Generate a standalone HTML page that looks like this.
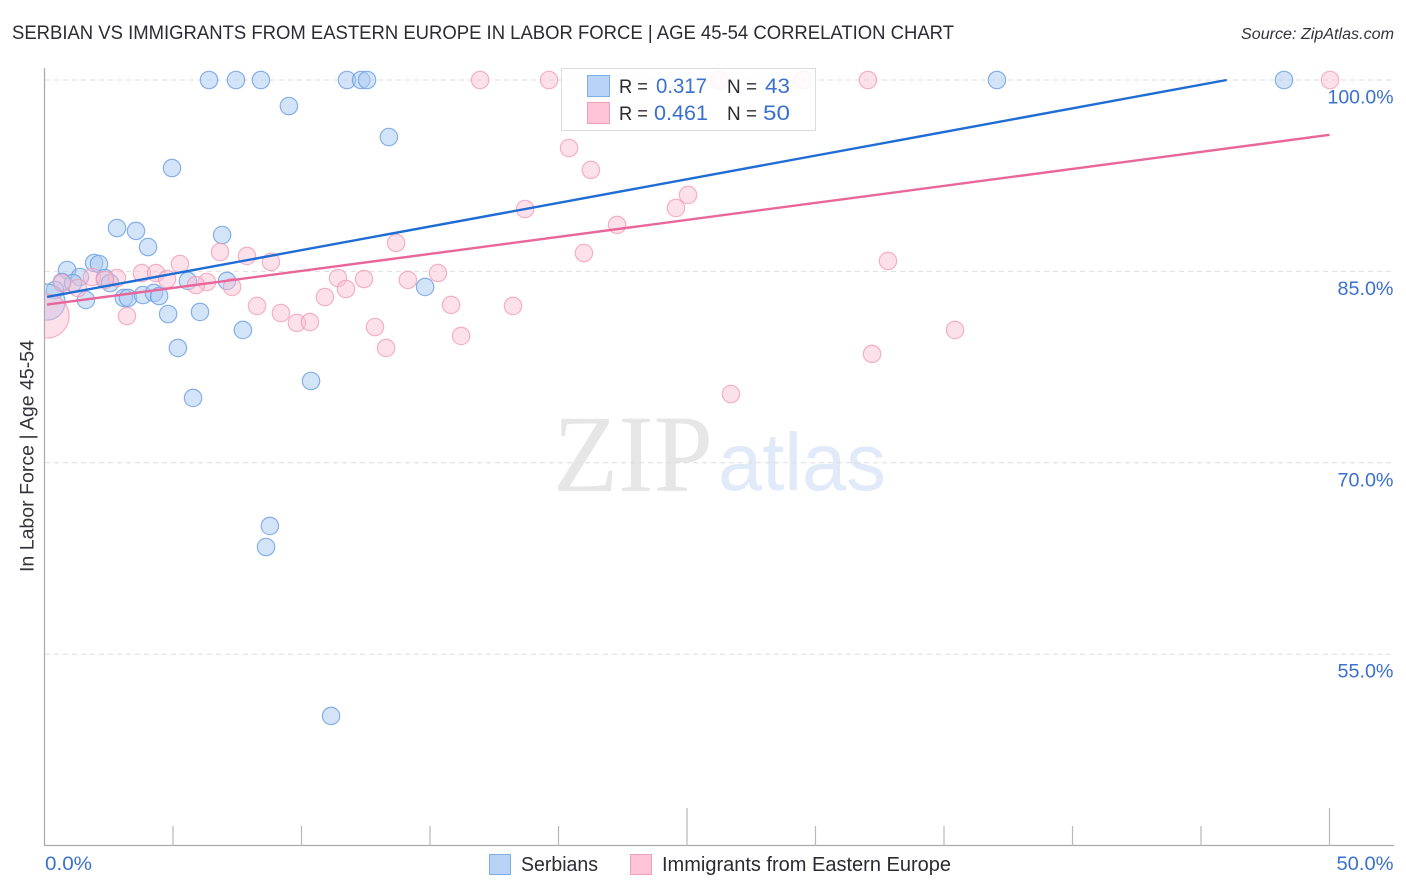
<!DOCTYPE html>
<html lang="en">
<head>
<meta charset="utf-8">
<title>Serbian vs Immigrants from Eastern Europe in Labor Force | Age 45-54 Correlation Chart</title>
<style>
html,body{margin:0;padding:0;background:#fff;}
svg{display:block;}
text{font-family:"Liberation Sans",sans-serif;}
</style>
</head>
<body>
<svg id="chart" xmlns="http://www.w3.org/2000/svg" width="1406" height="892" viewBox="0 0 1406 892">
  <defs>
    <clipPath id="plot-clip"><rect x="45" y="60" width="1349" height="786"></rect></clipPath>
  </defs>
  <rect x="0" y="0" width="1406" height="892" fill="#fff"></rect>
  <text x="12" y="39" font-size="19" fill="#2b2b33" textLength="942" lengthAdjust="spacingAndGlyphs">SERBIAN VS IMMIGRANTS FROM EASTERN EUROPE IN LABOR FORCE | AGE 45-54 CORRELATION CHART</text>
  <text x="1241" y="39" font-size="15.5" font-style="italic" fill="#33333b" textLength="153" lengthAdjust="spacingAndGlyphs">Source: ZipAtlas.com</text>
  <g>
    <text x="553" y="491" font-size="110" fill="#e6e6e6" textLength="160" lengthAdjust="spacingAndGlyphs" style="font-family:'Liberation Serif',serif">ZIP</text>
    <text x="718" y="490" font-size="82" fill="#e0eaf8" textLength="168" lengthAdjust="spacingAndGlyphs">atlas</text>
  </g>
  <g id="grid"></g>
  <g id="axes"></g>
  <g id="points" clip-path="url(#plot-clip)"></g>
  <g id="trends"></g>
  <text transform="translate(33.5,572) rotate(-90)" font-size="19" fill="#33333b" textLength="232" lengthAdjust="spacingAndGlyphs">In Labor Force | Age 45-54</text>

  <g>
    <rect x="561.5" y="68.5" width="254" height="62" fill="#fff" fill-opacity="0.85" stroke="#dcdcdc" stroke-width="1"></rect>
    <rect x="587.5" y="75.5" width="22" height="21" fill="#b8d3f5" stroke="#7eaee6"></rect>
    <rect x="587.5" y="102.5" width="22" height="21" fill="#fcc4d6" stroke="#f0a0ba"></rect>
    <text x="619" y="93" font-size="19.5" fill="#2b2b33" textLength="29" lengthAdjust="spacingAndGlyphs">R =</text>
    <text x="656" y="93" font-size="21" fill="#3a70cf" textLength="51" lengthAdjust="spacingAndGlyphs">0.317</text>
    <text x="727" y="93" font-size="19.5" fill="#2b2b33" textLength="30" lengthAdjust="spacingAndGlyphs">N =</text>
    <text x="765" y="93" font-size="21" fill="#3a70cf" textLength="25" lengthAdjust="spacingAndGlyphs">43</text>
    <text x="619" y="120" font-size="19.5" fill="#2b2b33" textLength="29" lengthAdjust="spacingAndGlyphs">R =</text>
    <text x="654" y="120" font-size="21" fill="#3a70cf" textLength="54" lengthAdjust="spacingAndGlyphs">0.461</text>
    <text x="727" y="120" font-size="19.5" fill="#2b2b33" textLength="30" lengthAdjust="spacingAndGlyphs">N =</text>
    <text x="763" y="120" font-size="21" fill="#3a70cf" textLength="27" lengthAdjust="spacingAndGlyphs">50</text>
  </g>

  <g>
    <rect x="489.5" y="854.5" width="21" height="20" fill="#b8d3f5" stroke="#7eaee6"></rect>
    <text x="521" y="871" font-size="20" fill="#2b2b33" textLength="77" lengthAdjust="spacingAndGlyphs">Serbians</text>
    <rect x="630.5" y="854.5" width="21" height="20" fill="#fcc4d6" stroke="#f0a0ba"></rect>
    <text x="662" y="871" font-size="20" fill="#2b2b33" textLength="289" lengthAdjust="spacingAndGlyphs">Immigrants from Eastern Europe</text>
  </g>
</svg>
<script>
// Each row: labor force x share (%), y share (%), relative sample size
const serbianPoints = [
  [6.40,100,1],[7.45,100,1],[8.42,100,1],[11.77,100,1],[12.32,100,1],[12.55,100,1],[37.06,100,1],[48.23,100,1],
  [9.51,97.96,1],[13.40,95.53,1],[4.96,93.10,1],[2.82,88.40,1],[3.56,88.17,1],[6.91,87.85,1],[4.03,86.91,1],
  [0.88,85.11,1],[1.38,84.56,1],[1.93,85.66,1],[2.12,85.58,1],[2.35,84.48,1],[0.68,84.17,1],[1.11,84.09,1],
  [2.55,84.09,1],[5.58,84.25,1],[7.10,84.25,1],[0.41,83.54,1],[0.10,82.60,4.3],[1.61,82.76,1],[3.09,82.92,1],
  [3.25,82.92,1],[3.83,83.15,1],[4.26,83.31,1],[4.46,83.07,1],[4.81,81.66,1],[6.05,81.82,1],[7.72,80.41,1],
  [5.19,79.00,1],[5.78,75.08,1],[10.37,76.41,1],[14.81,83.78,1],[8.77,65.05,1],[8.62,63.40,1],[11.15,50.16,1]
];
const immigrantPoints = [
  [16.95,100,1],[19.63,100,1],[26.25,100,1],[29.51,100,1],[32.04,100,1],[50.02,100,1],
  [20.41,94.67,1],[21.26,92.95,1],[18.70,89.89,1],[25.04,90.99,1],[24.57,89.97,1],[22.28,88.64,1],
  [13.68,87.23,1],[20.99,86.44,1],[6.83,86.52,1],[7.88,86.21,1],[8.81,85.74,1],[5.27,85.58,1],[32.82,85.82,1],
  [3.79,84.87,1],[4.34,84.87,1],[2.82,84.48,1],[4.77,84.40,1],[1.85,84.56,1],[11.42,84.48,1],[12.43,84.40,1],
  [15.31,84.87,1],[14.14,84.33,1],[11.73,83.62,1],[6.32,84.17,1],[5.89,83.93,1],[7.30,83.78,1],[2.35,84.33,1],
  [1.30,83.70,1],[0.68,84.09,1],[10.91,82.99,1],[8.27,82.29,1],[9.20,81.74,1],[9.82,80.96,1],[10.33,81.03,1],
  [15.82,82.37,1],[18.23,82.29,1],[12.86,80.64,1],[16.21,79.94,1],[13.29,79.00,1],[35.43,80.41,1],[32.20,78.53,1],
  [26.71,75.39,1],[3.21,81.50,1],[0.10,81.50,6.4]
];
const serbianTrend = [[0.1,83.0],[46,100]];
const immigrantTrend = [[0.1,82.4],[50,95.7]];
const yTicks = [100,85,70,55];
const yTickLabels = ['100.0%','85.0%','70.0%','55.0%'];
const xMinorTicks = [5,10,15,20,25,30,35,40,45,50];
const xMajorTicks = [25,50];
const xTickLabels = [[0,'0.0%'],[50,'50.0%']];

const NS = 'http://www.w3.org/2000/svg';
const xScale = v => 44.5 + v * 25.7;
const yScale = v => 80 + (100 - v) * 12.76;
const baseR = 8.7;

function make(tag, attrs, parent){
  const el = document.createElementNS(NS, tag);
  for (const k in attrs) el.setAttribute(k, attrs[k]);
  parent.appendChild(el);
  return el;
}

const grid = document.getElementById('grid');
const axes = document.getElementById('axes');
const points = document.getElementById('points');
const trends = document.getElementById('trends');

yTicks.forEach((t, i) => {
  const line = make('line', {x1:45, x2:1394, y1:yScale(t), y2:yScale(t), stroke:'#dedede', 'stroke-width':1, 'stroke-dasharray':'5 4'}, grid);
  
  
  const label = make('text', {x:1393.5, y:yScale(t) + 23.5, 'text-anchor':'end', 'font-size':19.5, fill:'#3a70cf', textLength: yTickLabels[i].length === 6 ? 66 : 56, lengthAdjust:'spacingAndGlyphs'}, axes);
  
  
  label.textContent = yTickLabels[i];
});

const yAxis = make('line', {x1:44.5, x2:44.5, y1:68, y2:846, stroke:'#aaaaaa', 'stroke-width':1.2}, axes);


const xAxis = make('line', {x1:44, x2:1394, y1:845.5, y2:845.5, stroke:'#aaaaaa', 'stroke-width':1.2}, axes);



xMinorTicks.forEach(t => {
  const top = xMajorTicks.includes(t) ? 808 : 826;
  const tick = make('line', {x1:xScale(t), x2:xScale(t), y1:top, y2:846, stroke:'#b8b8b8', 'stroke-width':1.2}, axes);
  
  
});

xTickLabels.forEach(([t, s]) => {
  const label = make('text', {x: t === 0 ? 45 : 1336.5, y:870, 'font-size':19.5, fill:'#3a70cf', textLength: t === 0 ? 47 : 57, lengthAdjust:'spacingAndGlyphs'}, axes);
  
  
  label.textContent = s;
});

serbianPoints.forEach(([x, y, n]) => {
  const c = make('circle', {cx:xScale(x), cy:yScale(y), r:baseR * Math.sqrt(n), fill:'#a9c9f2', 'fill-opacity':0.5, stroke:'#6a9fe2', 'stroke-opacity':0.8, 'stroke-width':1.2}, points);
  
  
});
immigrantPoints.forEach(([x, y, n]) => {
  const c = make('circle', {cx:xScale(x), cy:yScale(y), r:baseR * Math.sqrt(n), fill:'#fbbcd0', 'fill-opacity':0.45, stroke:'#f09ab6', 'stroke-opacity':0.75, 'stroke-width':1.2}, points);
  
  
});

const tb = make('line', {x1:xScale(serbianTrend[0][0]), y1:yScale(serbianTrend[0][1]), x2:xScale(serbianTrend[1][0]), y2:yScale(serbianTrend[1][1]), stroke:'#1f6dd4', 'stroke-width':2.4}, trends);


const tp = make('line', {x1:xScale(immigrantTrend[0][0]), y1:yScale(immigrantTrend[0][1]), x2:xScale(immigrantTrend[1][0]), y2:yScale(immigrantTrend[1][1]), stroke:'#e9669b', 'stroke-width':2.4}, trends);


</script>
</body>
</html>
